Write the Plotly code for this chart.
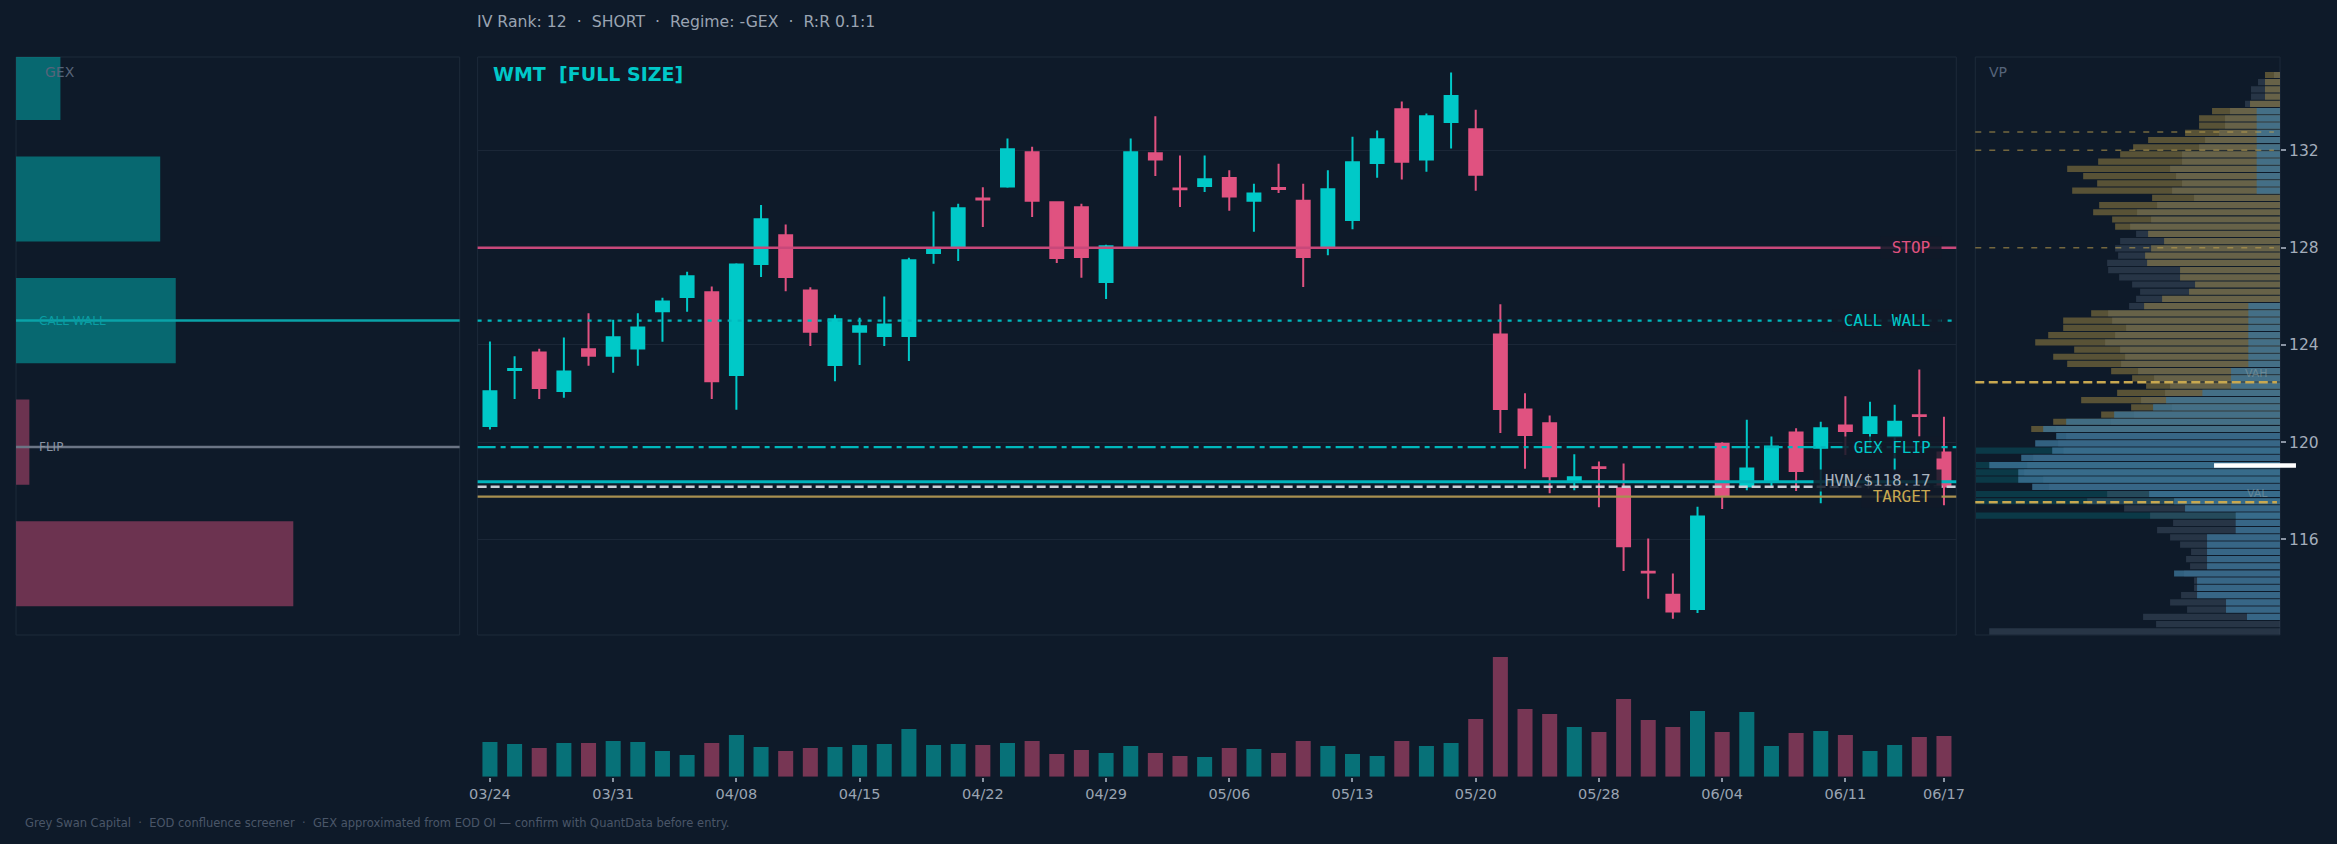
import plotly.graph_objects as go

W, H = 2337, 844
BG = "#0e1a29"
TEAL = "#00c9c8"
PINK = "#e05280"
GOLD = "#c8a850"

DATES = ["03/24","03/25","03/26","03/27","03/30","03/31","04/01","04/02","04/06","04/07",
         "04/08","04/09","04/10","04/13","04/14","04/15","04/16","04/17","04/20","04/21",
         "04/22","04/23","04/24","04/27","04/28","04/29","04/30","05/01","05/04","05/05",
         "05/06","05/07","05/08","05/11","05/12","05/13","05/14","05/15","05/18","05/19",
         "05/20","05/21","05/22","05/26","05/27","05/28","05/29","06/01","06/02","06/03",
         "06/04","06/05","06/08","06/09","06/10","06/11","06/12","06/15","06/16","06/17"]

OPEN = [120.66,122.97,123.69,122.10,123.82,123.55,123.85,125.38,125.97,126.17,
        122.76,127.33,128.51,126.24,123.17,124.54,124.37,124.37,127.78,128.03,
        130.02,130.51,131.92,129.87,129.66,126.59,128.07,131.88,130.43,130.54,
        130.86,129.93,130.45,129.93,128.01,129.14,131.48,133.69,131.62,133.17,
        132.87,124.43,121.34,120.78,118.37,118.97,118.10,114.67,113.73,113.14,
        119.94,118.18,118.40,120.40,119.77,120.69,120.38,120.23,121.11,119.58]
HIGH = [124.14,123.53,123.84,124.30,125.30,125.03,125.30,125.94,127.01,126.40,
        127.36,129.75,128.95,126.37,125.24,125.12,125.99,127.58,129.49,129.81,
        130.48,132.49,132.15,129.90,129.81,128.12,132.49,133.40,131.79,131.79,
        131.18,130.63,131.45,130.63,131.18,132.56,132.82,134.01,133.52,135.20,
        133.67,125.67,122.01,121.10,119.50,119.20,119.12,116.04,114.60,117.34,
        120.00,120.92,120.23,120.57,120.84,121.89,121.66,121.54,122.99,121.05]
LOW = [120.52,121.78,121.78,121.83,123.14,122.85,123.14,124.13,125.36,121.78,
       121.33,126.79,126.21,123.96,122.51,123.17,123.96,123.34,127.34,127.45,
       128.85,130.46,129.26,127.37,126.76,125.89,127.97,130.95,129.67,130.29,
       129.52,128.65,130.25,126.38,127.69,128.76,130.87,130.80,131.12,132.08,
       130.34,120.38,118.91,117.90,118.02,117.32,114.70,113.56,112.74,112.97,
       117.25,118.02,118.18,117.99,117.49,119.47,119.77,118.83,120.23,117.41]
CLOSE = [122.09,123.01,122.23,122.91,123.55,124.31,124.72,125.79,126.82,122.51,
         127.31,129.17,126.79,124.54,125.06,124.77,124.84,127.48,127.93,129.62,
         129.98,132.05,129.93,127.57,127.62,128.06,131.92,131.62,130.40,130.81,
         130.10,130.23,130.41,127.62,130.40,131.51,132.46,131.53,133.40,134.24,
         131.00,121.36,120.29,118.60,118.56,118.94,115.72,114.64,113.04,116.94,
         117.79,118.92,119.82,118.81,120.57,120.46,121.02,120.84,121.08,118.18]
VOLUME_M = [10.4,9.8,8.6,10.1,10.1,10.7,10.4,7.7,6.5,10.1,
            12.5,8.9,7.7,8.6,8.9,9.5,9.8,14.3,9.5,9.8,
            9.5,10.1,10.7,6.8,8.0,7.1,9.2,7.1,6.2,5.9,
            8.6,8.3,7.1,10.7,9.2,6.8,6.2,10.7,9.2,10.1,
            17.3,35.9,20.3,18.8,14.9,13.4,23.3,17.0,14.9,19.7,
            13.4,19.4,9.2,13.1,13.7,12.5,7.7,9.5,11.9,12.2]

TICK_DATES = DATES[0::5] + [DATES[-1]]

# key levels
STOP = 128.0
CALL_WALL = 125.0
GEX_FLIP = 119.8
HVN = 118.17
PRICE_LINE = 118.37
TARGET = 117.76
HVN_LABEL_Y = 118.42

# GEX by strike
GEX_STRIKES = [115, 120, 125, 130, 135]
GEX_VALUES = [-2.5, -0.12, 1.44, 1.30, 0.40]

# volume profile (top bin first)
VP_TOP = 135.10
VP_STEP = 0.2971
VP_TEAL = [0]*52 + [913, 0, 913, 913, 913, 0, 913, 913, 0, 913] + [0]*16
VP_GRAY = [18,66,87,87,105,150,165,165,183,225,243,294,294,330,312,294,324,258,369,429,
           387,450,432,480,495,486,519,516,483,444,420,432,453,516,504,462,495,525,480,465,
           477,426,378,330,345,417,324,438,507,672,642,666,650,741,759,768,711,693,519,579,
           468,390,321,369,330,300,267,282,270,288,258,258,297,330,279,411,372,873]
VP_GOLD = [45,45,45,45,90,204,243,243,285,396,441,480,546,639,591,549,624,384,543,561,
           504,495,396,348,387,405,399,300,300,255,273,354,408,567,651,651,696,735,618,681,
           639,507,444,402,489,597,447,537,681,747] + [0]*28
VP_BLUE = [0,0,0,0,0] + [70]*12 + [0]*15 + [95]*9 + [147,147,147,233,342,381,498,642,711,
           672,735,684,777,873,786,786,744,393,318,285,133,133,133,219,219,219,219,219,318,
           249,249,249,162,162,99,0,0]
VP_PRICES = [round(VP_TOP - k * VP_STEP, 3) for k in range(len(VP_GRAY))]
VAH, VAL, POC = 122.46, 117.53, 119.04
VP_LEVELS = [132.76, 132.0, 128.0]

Y_RANGE = [112.07, 135.84]

HEADER = "IV Rank: 12\u00a0\u00a0·\u00a0\u00a0SHORT\u00a0\u00a0·\u00a0\u00a0Regime: -GEX\u00a0\u00a0·\u00a0\u00a0R:R 0.1:1"
TITLE = "<b>WMT\u00a0\u00a0[FULL SIZE]</b>"
FOOTER = ("Grey Swan Capital\u00a0\u00a0·\u00a0\u00a0EOD confluence screener\u00a0\u00a0·\u00a0\u00a0"
          "GEX approximated from EOD OI — confirm with QuantData before entry.")


def px_x(p):
    # compensate the page offset/scale seen in the rendered screenshot
    return (p / 0.9932 - 8) / W


def px_y(p):
    return (H - p) / H


MAIN_X = [px_x(477), px_x(1957)]
GEX_X = [px_x(15), px_x(459)]
VP_X = [px_x(1976), px_x(2281)]
PANEL_Y = [px_y(635), px_y(57)]
VOL_Y = [px_y(776.7), px_y(643.3)]

fig = go.Figure()

fig.add_trace(go.Candlestick(
    x=DATES, open=OPEN, high=HIGH, low=LOW, close=CLOSE,
    increasing=dict(line=dict(color=TEAL, width=2), fillcolor=TEAL),
    decreasing=dict(line=dict(color=PINK, width=2), fillcolor=PINK),
    whiskerwidth=0, showlegend=False, xaxis="x", yaxis="y", hoverinfo="skip"))

vol_colors = ["rgba(0,200,200,0.5)" if c >= o else "rgba(224,82,128,0.5)"
              for o, c in zip(OPEN, CLOSE)]
fig.add_trace(go.Bar(x=DATES, y=VOLUME_M, marker=dict(color=vol_colors, line=dict(width=0)),
                     width=0.61, showlegend=False, xaxis="x2", yaxis="y2", hoverinfo="skip"))

# volume profile, overlaid semi-transparent layers
for vals, col in [(VP_TEAL, "rgba(0,186,196,0.2)"), (VP_GRAY, "rgba(100,116,139,0.3)"),
                  (VP_GOLD, "rgba(201,168,76,0.4)"), (VP_BLUE, "rgba(60,115,150,0.8)")]:
    fig.add_trace(go.Bar(y=VP_PRICES, x=vals, orientation="h", width=0.255,
                         marker=dict(color=col, line=dict(width=0)),
                         showlegend=False, xaxis="x3", yaxis="y3", hoverinfo="skip"))

gex_colors = ["rgba(0,200,200,0.45)" if v >= 0 else "rgba(224,82,128,0.45)" for v in GEX_VALUES]
fig.add_trace(go.Bar(y=GEX_STRIKES, x=[abs(v) for v in GEX_VALUES], orientation="h", width=3.5,
                     marker=dict(color=gex_colors, line=dict(width=0)),
                     showlegend=False, xaxis="x4", yaxis="y4", hoverinfo="skip"))

shapes = []
border = "#1d2a3a"
for xd in (MAIN_X, GEX_X, VP_X):
    shapes.append(dict(type="rect", xref="paper", yref="paper", x0=xd[0], x1=xd[1],
                       y0=PANEL_Y[0], y1=PANEL_Y[1], line=dict(color=border, width=1),
                       fillcolor="rgba(0,0,0,0)", layer="below"))


def hline(y, xr, yr, color, width, dash="solid", x0=0, x1=1):
    return dict(type="line", xref=xr, yref=yr, x0=x0, x1=x1, y0=y, y1=y,
                line=dict(color=color, width=width, dash=dash))


shapes += [
    hline(STOP, "x domain", "y", "#c8487a", 2.5),
    hline(CALL_WALL, "x domain", "y", "#00b8bc", 2.2, "4px,6px"),
    hline(GEX_FLIP, "x domain", "y", "#00b8bc", 2.2, "18px,5px,5px,5px"),
    hline(PRICE_LINE, "x domain", "y", "#00b5bd", 3),
    hline(HVN, "x domain", "y", "#c9ced6", 2.5, "9px,4px"),
    hline(TARGET, "x domain", "y", "#a89050", 2.2),
    hline(CALL_WALL, "x4 domain", "y4", "#0aa3a8", 2.5),
    hline(GEX_FLIP, "x4 domain", "y4", "#6b7585", 2.5),
]
for lv in VP_LEVELS:
    shapes.append(hline(lv, "x3 domain", "y3", "rgba(200,168,80,0.55)", 1.5, "6px,8px", 0, 0.98))
for lv in (VAH, VAL):
    shapes.append(hline(lv, "x3 domain", "y3", "#c8a850", 2.5, "9px,4.5px", 0, 0.99))
shapes.append(dict(type="line", xref="paper", yref="y3", x0=px_x(2215), x1=px_x(2297),
                   y0=POC, y1=POC, line=dict(color="#ffffff", width=4.5)))

annotations = [
    dict(text=HEADER, x=px_x(474), y=px_y(22), xref="paper", yref="paper", xanchor="left",
         yanchor="middle", showarrow=False, font=dict(size=15.7, color="#9aa4b2")),
    dict(text=TITLE, x=px_x(490), y=px_y(74.5), xref="paper", yref="paper", xanchor="left",
         yanchor="middle", showarrow=False, font=dict(size=19, color="#00c8c8")),
    dict(text=FOOTER, x=px_x(22), y=px_y(823), xref="paper", yref="paper", xanchor="left",
         yanchor="middle", showarrow=False, font=dict(size=11.5, color="#4a5668")),
    dict(text="GEX", x=px_x(42), y=px_y(71.6), xref="paper", yref="paper", xanchor="left",
         yanchor="middle", showarrow=False, font=dict(size=14, color="#56647a")),
    dict(text="VP", x=px_x(1988), y=px_y(71.6), xref="paper", yref="paper", xanchor="left",
         yanchor="middle", showarrow=False, font=dict(size=14, color="#56647a")),
    dict(text="CALL WALL", x=px_x(36), y=CALL_WALL, xref="paper", yref="y4", xanchor="left",
         yanchor="middle", showarrow=False, font=dict(size=12, color="#0a9da3")),
    dict(text="FLIP", x=px_x(36), y=GEX_FLIP, xref="paper", yref="y4", xanchor="left",
         yanchor="middle", showarrow=False, font=dict(size=12, color="#8a94a3")),
    dict(text="VAH", x=px_x(2271), y=VAH, xref="paper", yref="y3", xanchor="right",
         yanchor="bottom", showarrow=False, font=dict(size=11, color="rgba(140,160,165,0.55)")),
    dict(text="VAL", x=px_x(2271), y=VAL, xref="paper", yref="y3", xanchor="right",
         yanchor="bottom", showarrow=False, font=dict(size=11, color="rgba(140,160,165,0.55)")),
]
for txt, yv, col in [("STOP", STOP, PINK), ("CALL WALL", CALL_WALL, "#00c8c8"),
                     ("GEX FLIP", GEX_FLIP, "#00c8c8"), ("HVN/$118.17", HVN_LABEL_Y, "#aab3bf"),
                     ("TARGET", TARGET, "#c8a850")]:
    annotations.append(dict(text="\u00a0" + txt + "\u00a0", x=px_x(1943), y=yv, xref="paper",
                            yref="y", xanchor="right", yanchor="middle", showarrow=False,
                            bgcolor="rgba(16,26,40,0.85)", borderpad=1,
                            font=dict(family="DejaVu Sans Mono", size=16, color=col)))

hidden = dict(showgrid=False, zeroline=False, showticklabels=False, ticks="", showline=False)

fig.update_layout(
    width=W, height=H, autosize=False,
    margin=dict(l=0, r=0, t=0, b=0),
    paper_bgcolor=BG, plot_bgcolor=BG,
    font=dict(family="DejaVu Sans", color="#9aa4b2"),
    barmode="overlay", boxgap=0.3, boxgroupgap=0.25,
    hovermode=False, showlegend=False,
    shapes=shapes, annotations=annotations,
    xaxis=dict(domain=MAIN_X, anchor="y", type="category", categoryorder="array",
               categoryarray=DATES, range=[-0.5, len(DATES) - 0.5],
               rangeslider=dict(visible=False), **hidden),
    yaxis=dict(domain=PANEL_Y, anchor="x", range=Y_RANGE, showgrid=True, gridcolor="#1b2737",
               gridwidth=1, dtick=4, tick0=0, zeroline=False, showticklabels=False, ticks=""),
    xaxis2=dict(domain=MAIN_X, anchor="y2", type="category", categoryorder="array",
                categoryarray=DATES, range=[-0.5, len(DATES) - 0.5],
                tickmode="array", tickvals=TICK_DATES, ticktext=TICK_DATES,
                ticks="outside", ticklen=4, tickwidth=1.5, tickcolor="#8a94a3",
                tickfont=dict(size=14.5, color="#9aa4b2"), showgrid=False, zeroline=False,
                showline=False),
    yaxis2=dict(domain=VOL_Y, anchor="x2", range=[0, 40], **hidden),
    xaxis3=dict(domain=VP_X, anchor="y3", range=[915, 0], **hidden),
    yaxis3=dict(domain=PANEL_Y, anchor="x3", side="right", range=Y_RANGE,
                tickmode="array", tickvals=[116, 120, 124, 128, 132],
                ticks="outside", ticklen=5, tickwidth=2, tickcolor="#8a94a3",
                tickfont=dict(size=15.5, color="#a3adbb"), showgrid=False, zeroline=False,
                showline=False),
    xaxis4=dict(domain=GEX_X, anchor="y4", range=[0, 4.0], **hidden),
    yaxis4=dict(domain=PANEL_Y, anchor="x4", range=Y_RANGE, **hidden),
)

fig.write_html("out.html")
